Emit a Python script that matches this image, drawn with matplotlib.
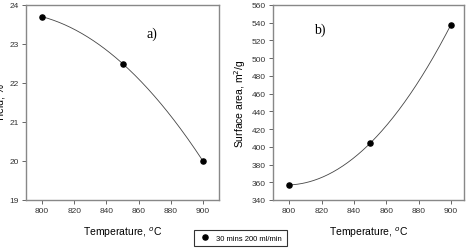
import matplotlib.pyplot as plt
import numpy as np

# data
temps = [800, 850, 900]
yield_pct = [23.7, 22.5, 20.0]
surface_area = [357, 404, 538]
legend_label = '30 mins 200 ml/min'

plt.rcParams['font.family'] = ['Liberation Sans', 'DejaVu Sans']

W, H = 468, 251
fig = plt.figure(figsize=(W / 100, H / 100), dpi=100)


def px_axes(x0, y0, x1, y1):
    return fig.add_axes([x0 / W, 1 - y1 / H, (x1 - x0) / W, (y1 - y0) / H])


def style(ax):
    for s in ax.spines.values():
        s.set_color('#888888')
        s.set_linewidth(1.0)
    ax.tick_params(direction='out', length=3, width=0.7, color='#666666',
                   labelsize=6, labelcolor='#333333', pad=2)


def smooth(x, y):
    c = np.polyfit(x, y, 2)
    xs = np.linspace(min(x), max(x), 200)
    return xs, np.polyval(c, xs)


# a) yield
ax1 = px_axes(26, 6, 219, 201)
xs, ys = smooth(temps, yield_pct)
ax1.plot(xs, ys, color='#444444', lw=0.6)
pts, = ax1.plot(temps, yield_pct, 'o', color='black', ms=3.7, label=legend_label)
ax1.set_xlim(790, 910)
ax1.set_ylim(19, 24)
ax1.set_xticks(np.arange(800, 901, 20))
ax1.set_yticks(np.arange(19, 25, 1))
style(ax1)
ax1.set_xlabel('Temperature, $^{o}$C', fontsize=7.5, labelpad=8)
ax1.set_ylabel('Yield, %', fontsize=7.5)
ax1.yaxis.set_label_coords(-0.104, 0.5)
fig.text(152 / W, 1 - 34 / H, 'a)', fontsize=10, family='Liberation Serif',
         ha='center', va='center')

# b) surface area
ax2 = px_axes(273, 6, 464, 201)
xs, ys = smooth(temps, surface_area)
ax2.plot(xs, ys, color='#444444', lw=0.6)
ax2.plot(temps, surface_area, 'o', color='black', ms=3.7)
ax2.set_xlim(790, 908)
ax2.set_ylim(340, 560)
ax2.set_xticks(np.arange(800, 901, 20))
ax2.set_yticks(np.arange(340, 561, 20))
style(ax2)
ax2.set_xlabel('Temperature, $^{o}$C', fontsize=7.5, labelpad=8)
ax2.set_ylabel('Surface area, m$^{2}$/g', fontsize=7.5, labelpad=3)
fig.text(320 / W, 1 - 30 / H, 'b)', fontsize=10, family='Liberation Serif',
         ha='center', va='center')

leg = fig.legend(handles=[pts], loc='center', bbox_to_anchor=(240.5 / W, 1 - 239 / H),
                 fontsize=5.5, frameon=True, fancybox=False, edgecolor='black',
                 handletextpad=0.8, borderpad=0.6, handlelength=1.5)
leg.get_frame().set_linewidth(0.8)

fig.savefig('out.png', dpi=100)
